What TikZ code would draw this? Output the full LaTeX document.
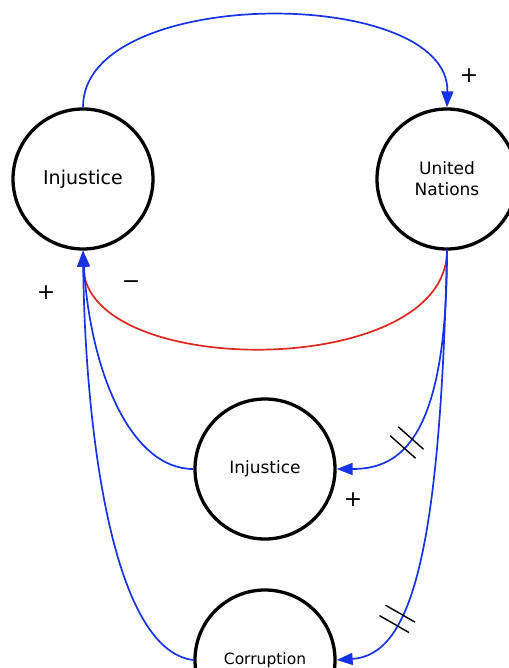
\documentclass[tikz,border=0pt]{standalone}
\usepackage{fontspec}
\setmainfont{DejaVu Sans}
\usetikzlibrary{arrows.meta,decorations.markings}
\definecolor{linkblue}{RGB}{22,52,230}
\definecolor{linkred}{RGB}{220,40,30}
\tikzset{
  stock/.style={circle, draw=black, line width=3.3pt, minimum size=140pt, inner sep=0pt, align=center},
  link/.style={draw=linkblue, line width=1.7pt, -{Triangle[length=16pt,width=12pt]}},
  neglink/.style={draw=linkred, line width=1.7pt, -{Triangle[length=16pt,width=12pt]}},
  delay/.style={postaction={decorate, decoration={markings,
    mark=at position #1 with {\draw[black, line width=1.4pt, -] (-6pt,-17pt) -- (-6pt,17pt) (6pt,-17pt) -- (6pt,17pt);}}}},
  polarity/.style={font=\fontsize{22}{22}\selectfont}
}
\begin{document}
\begin{tikzpicture}[x=1pt, y=1pt]
  \useasboundingbox (0,0) rectangle (508,-668);
  %% stocks
  \node[stock, font=\fontsize{19}{22}\selectfont] (injtop) at (83,-179) {Injustice};
  \node[stock, font=\fontsize{17}{21}\selectfont] (un) at (447,-179) {United\\Nations};
  \node[stock, font=\fontsize{17}{20}\selectfont] (injmid) at (265,-469) {Injustice};
  \node[stock, font=\fontsize{15.5}{18}\selectfont] (corr) at (265,-660) {Corruption};
  %% causal links
  \draw[link] (injtop.north) .. controls (82,15) and (450,15) .. (un.north);
  \draw[neglink] (un.south) .. controls (447,-380) and (85,-380) .. (injtop.south);
  \draw[link, delay=0.72] (un.south) .. controls (447,-440) and (400,-469) .. (injmid.east);
  \draw[link, delay=0.83] (un.south) .. controls (440,-560) and (410,-655) .. (corr.east);
  \draw[link] (injmid.west) .. controls (130,-469) and (90,-370) .. (injtop.south);
  \draw[link] (corr.west) .. controls (110,-650) and (85,-420) .. (injtop.south);
  %% polarities
  \node[polarity] (p1) at (469,-76) {+};
  \node[polarity] (p2) at (46,-293) {+};
  \node[polarity] (m1) at (131,-285) {−};
  \node[polarity] (p3) at (353,-500) {+};
\end{tikzpicture}
\end{document}
